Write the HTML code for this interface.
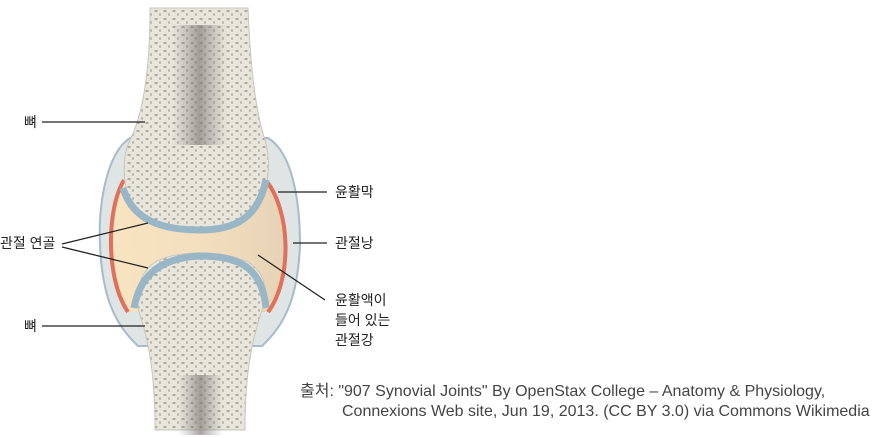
<!DOCTYPE html>
<html><head><meta charset="utf-8"><style>
html,body{margin:0;padding:0;background:#fff;}
svg{display:block;font-family:"Liberation Sans","Noto Sans CJK KR",sans-serif;}
</style></head><body>
<svg width="886" height="438" viewBox="0 0 886 438">
<defs>
<pattern id="sp" width="9" height="8" patternUnits="userSpaceOnUse">
<rect width="9" height="8" fill="#e8e6dc"/>
<ellipse cx="3" cy="3" rx="1.7" ry="1.1" fill="#aeab9c"/>
<ellipse cx="7" cy="6.5" rx="1.1" ry="1.4" fill="#b8b5a6"/>
</pattern>
<linearGradient id="mar" x1="0" x2="1"><stop offset="0" stop-color="#888" stop-opacity="0"/><stop offset=".5" stop-color="#77756e" stop-opacity=".75"/><stop offset="1" stop-color="#888" stop-opacity="0"/></linearGradient>
<linearGradient id="cav" x1="0" x2="1"><stop offset="0" stop-color="#f8e4c0"/><stop offset=".5" stop-color="#f3dfbe"/><stop offset="1" stop-color="#e6d3b6"/></linearGradient>
</defs>
<!-- capsule -->
<path d="M130,138 C108,152 98,200 100,245 C102,292 112,322 138,346 L262,346 C288,322 298,292 300,245 C300,200 292,152 268,138 Z" fill="#dfe4e5" stroke="#a6bccb" stroke-width="2"/>
<!-- cavity -->
<path d="M124,180 C106,210 106,280 128,312 L272,312 C292,280 292,210 264,178 Z" fill="url(#cav)"/>
<path d="M124,180 C106,210 106,280 128,312" fill="none" stroke="#e0705c" stroke-width="4"/>
<path d="M264,178 C292,210 292,280 268,312" fill="none" stroke="#e0705c" stroke-width="4"/>
<!-- upper bone -->
<path d="M150,8 L248,8 C250,60 255,110 265,140 C272,165 268,200 252,215 C230,232 170,232 142,218 C122,200 120,160 130,140 C145,110 150,60 150,8 Z" fill="url(#sp)" stroke="#c9c6b8" stroke-width="1"/>
<rect x="172" y="25" width="55" height="120" fill="url(#mar)" opacity=".85"/>
<path d="M123,188 C133,222 165,230 200,230 C235,230 258,218 266,180" fill="none" stroke="#98b6c6" stroke-width="7"/>
<!-- lower bone -->
<path d="M155,430 L245,430 C245,380 250,345 262,310 C270,290 264,272 248,262 C222,250 178,250 155,262 C137,275 134,298 140,315 C150,345 155,380 155,430 Z" fill="url(#sp)" stroke="#c9c6b8" stroke-width="1"/>
<rect x="178" y="375" width="45" height="60" fill="url(#mar)" opacity=".85"/>
<path d="M134,308 C140,275 160,258 200,256 C240,256 262,268 266,308" fill="none" stroke="#98b6c6" stroke-width="7"/>
<!-- leader lines -->
<g stroke="#222" stroke-width="1.3">
<line x1="42" y1="122" x2="145" y2="122"/>
<line x1="62" y1="244" x2="148" y2="223"/>
<line x1="62" y1="247" x2="148" y2="268"/>
<line x1="42" y1="326" x2="145" y2="326"/>
<line x1="278" y1="192" x2="327" y2="192"/>
<line x1="293" y1="243" x2="327" y2="243"/>
<line x1="258" y1="255" x2="325" y2="300"/>
</g>
<g font-size="14" fill="#222">
<text x="24" y="127">뼈</text>
<text x="0" y="248">관절 연골</text>
<text x="24" y="331">뼈</text>
<text x="335" y="197">윤활막</text>
<text x="335" y="248">관절낭</text>
<text x="335" y="305">윤활액이</text>
<text x="335" y="325">들어 있는</text>
<text x="335" y="345">관절강</text>
</g>
<g font-size="16" fill="#444">
<text x="300" y="396">출처: "907 Synovial Joints" By OpenStax College – Anatomy &amp; Physiology,</text>
<text x="342" y="416">Connexions Web site, Jun 19, 2013. (CC BY 3.0) via Commons Wikimedia</text>
</g>
</svg>
</body></html>
